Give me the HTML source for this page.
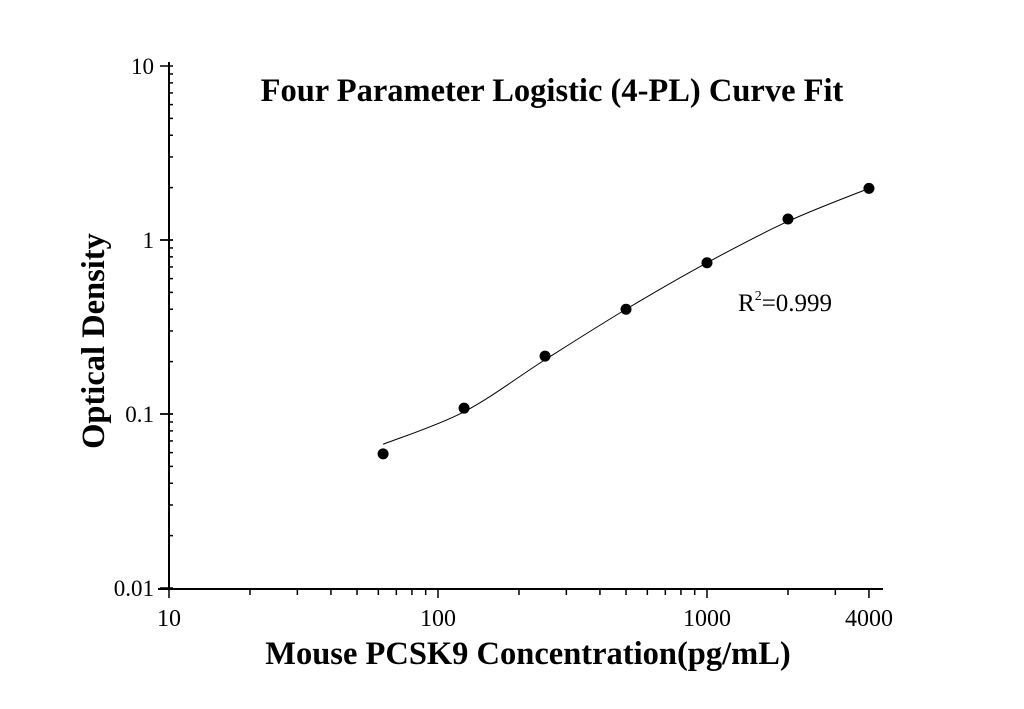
<!DOCTYPE html>
<html><head><meta charset="utf-8"><style>body{margin:0;background:#fff}svg{display:block}text{font-family:"Liberation Serif",serif;fill:#000}</style></head>
<body>
<svg id="chart" width="1024" height="709" viewBox="0 0 1024 709">
<text x="552" y="101" font-size="32.5" font-weight="bold" text-anchor="middle">Four Parameter Logistic (4-PL) Curve Fit</text>
<text x="528" y="664" font-size="32.5" font-weight="bold" text-anchor="middle">Mouse PCSK9 Concentration(pg/mL)</text>
<text transform="translate(104,341) rotate(-90)" font-size="32.5" font-weight="bold" text-anchor="middle">Optical Density</text>
<text x="738" y="311" font-size="25">R<tspan font-size="14" dy="-11">2</tspan><tspan dy="11">=0.999</tspan></text>
<g id="axes"></g><g id="marks"></g>
</svg>
<script>
const concentrations=[62.5,125,250,500,1000,2000,4000];
const odValues=[0.059,0.108,0.215,0.40,0.74,1.32,1.98];
const fitConc=[62.5,125,250,500,1000,2000,4000];
const fitOd=[0.067,0.103,0.205,0.40,0.74,1.28,1.98];
const xTicks=[10,100,1000,4000];
const yTicks=[0.01,0.1,1,10];
const NS='http://www.w3.org/2000/svg';
const X=v=>169+(Math.log10(v)-1)*269;
const Y=v=>66+(1-Math.log10(v))*174;
function mk(t,a,p){const e=document.createElementNS(NS,t);for(const k in a)e.setAttribute(k,a[k]);p.appendChild(e);return e;}
const ax=document.getElementById('axes'),mg=document.getElementById('marks');
let l=mk('line',{x1:169,y1:62,x2:169,y2:590,stroke:'#000','stroke-width':2},ax);


l=mk('line',{x1:158,y1:589,x2:883,y2:589,stroke:'#000','stroke-width':2},ax);


for(let d=1;d<=3;d++)for(let m=1;m<=9;m++){const v=Math.pow(10,d)*m;if(v>4000)break;const x=X(v);
 const t=mk('line',{x1:x,y1:589,x2:x,y2:m==1||v==4000?598:595,stroke:'#000','stroke-width':1.5},ax);
 
 }
for(let d=-2;d<=0;d++)for(let m=1;m<=10;m++){const v=Math.pow(10,d)*m;const y=Y(v);
 const t=mk('line',{x1:m==1||m==10?160:169,y1:y,x2:173,y2:y,stroke:'#000','stroke-width':1.5},ax);
 
 }
xTicks.forEach(v=>{const t=mk('text',{x:X(v),y:626,'font-size':24,'text-anchor':'middle'},ax);t.textContent=v;
 
 });
yTicks.forEach(v=>{const t=mk('text',{x:154,y:Y(v)+8,'font-size':23,'text-anchor':'end'},ax);t.textContent=v;
 
 });
const pts=fitConc.map((c,i)=>[X(c),Y(fitOd[i])]);
let d='M'+pts[0].join(',');
for(let i=0;i<pts.length-1;i++){const p0=pts[Math.max(0,i-1)],p1=pts[i],p2=pts[i+1],p3=pts[Math.min(pts.length-1,i+2)];
 d+=` C${p1[0]+(p2[0]-p0[0])/6},${p1[1]+(p2[1]-p0[1])/6} ${p2[0]-(p3[0]-p1[0])/6},${p2[1]-(p3[1]-p1[1])/6} ${p2[0]},${p2[1]}`;}
const c=mk('path',{d:d,fill:'none',stroke:'#000','stroke-width':1},mg);


concentrations.forEach((v,i)=>{const p=mk('circle',{cx:X(v),cy:Y(odValues[i]),r:5.5,fill:'#000'},mg);
 
 });
</script>
</body></html>
